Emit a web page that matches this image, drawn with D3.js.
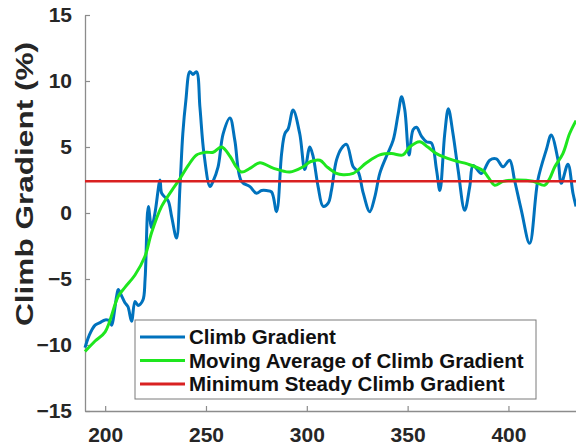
<!DOCTYPE html>
<html>
<head>
<meta charset="utf-8">
<script src="https://cdn.jsdelivr.net/npm/d3@7"></script>
<style>
  html, body { margin: 0; padding: 0; background: #fff; }
  svg { display: block; font-family: "Liberation Sans", Arial, sans-serif; }
</style>
</head>
<body>
<div id="chart"></div>
<script>
// climb gradient samples (distance, %)
const gradX = [190, 192, 195, 197.5, 200, 202.4, 203.2, 205.7, 206.5, 208.2, 209.8, 211.3, 213.1, 214.8, 216.3, 218.7, 219.8,
  221.4, 223, 224.7, 227.2, 228, 229.6, 231.3, 233, 235.4, 237.1, 238.5, 240, 242, 243.5, 245.3, 247, 249, 252, 253.5,
  256, 258.5, 261.9, 264.3, 267.6, 271.8, 275, 277.6, 280, 282.5, 285, 287.5, 289.1, 290.8, 293.2, 296.5, 299, 301.5,
  303.1, 305.6, 308.1, 310.6, 312.2, 314.7, 317.2, 319.7, 323, 325.5, 328, 331.2, 333.7, 336.2, 339.5, 342.8, 345.3,
  347, 348.6, 350.7, 352.7, 354.4, 356.9, 359.3, 361.8, 364.3, 366, 368.4, 370.2, 372.5, 375, 378.3, 380.8, 382.5,
  386.6, 390.7, 394, 397.3, 400.6, 403, 406.4, 410.5, 414.6, 418.8, 421.2, 424.6, 426.2, 429.5, 432, 433.5];
const gradY = [-10.2, -9.3, -8.5, -8.3, -8.1, -8.2, -8.5, -6.3, -5.8, -6.3, -6.8, -7.1, -8.2, -6.7, -7.0, -6.6, -5.0,
  0.5, -1.1, 0, 2.5, 1.5, 1.2, 0.9, -0.3, -1.9, 2.0, 6.0, 8.5, 10.7, 10.5, 10.7, 8.0, 4.5, 2.0, 2.4,
  3.5, 6.0, 7.2, 5.5, 2.4, 2.0, 1.5, 1.7, 1.7, 1.6, 0.1, 4.5, 6.0, 6.4, 7.8, 6.0, 3.3, 5.0,
  4.3, 2.0, 0.5, 0.75, 1.7, 4.0, 4.9, 5.2, 3.5, 3.1, 1.5, 0.1, 1.2, 3.0, 4.3, 5.5, 7.5,
  8.8, 7.8, 4.4, 6.3, 6.5, 5.8, 5.4, 5.3, 3.3, 1.7, 6.0, 7.9, 6.0, 3.3, 0.2, 2.0, 3.6,
  3.0, 4.0, 4.1, 3.5, 4.0, 2.5, 0.2, -2.3, 2.5, 4.8, 5.9, 4.0, 2.25, 3.7, 1.5, 0.5];

// moving average
const avgX = [190, 195, 200, 206.5, 210, 214.8, 219.7, 223, 228, 233, 237.1, 241.2, 245.3, 250, 253.6, 257.7, 261.9,
  265, 267.6, 272, 276.7, 283.3, 291.6, 298.2, 302, 306.5, 310, 314.7, 318, 323, 329.6, 336.2, 342, 347.7, 351, 356,
  360, 364.3, 372.5, 380, 387.4, 390, 393.2, 397.3, 403.9, 412.2, 417.9, 420.4, 423, 427, 430.3, 433.5];
const avgY = [-10.5, -9.7, -9.0, -6.3, -5.6, -4.7, -3.3, -1.5, 0.5, 1.7, 2.6, 3.6, 4.4, 4.6, 4.6, 5.0, 4.3,
  3.5, 3.1, 3.4, 3.8, 3.4, 3.1, 3.5, 3.9, 4.0, 3.5, 3.0, 2.9, 3.0, 3.8, 4.4, 4.5, 4.4, 5.0, 5.4,
  5.0, 4.5, 4.0, 3.7, 3.2, 2.7, 2.1, 2.4, 2.5, 2.4, 2.1, 2.6, 3.5, 4.5, 6.0, 7.0];

const minSteady = 2.4;
const xDomain = [190, 433.5];
const xTicks = [200, 250, 300, 350, 400];
const yTicks = [-15, -10, -5, 0, 5, 10, 15];
const legendNames = ['Climb Gradient', 'Moving Average of Climb Gradient', 'Minimum Steady Climb Gradient'];
const colors = ['#0072BD', '#1EE61E', '#D92121'];

const width = 576, height = 446;
const margin = { left: 85, right: 0, top: 15, bottom: 35 };

const svg = d3.select('#chart').append('svg')
  .attr('width', width)
  .attr('height', height);

const x = d3.scaleLinear().domain(xDomain).range([margin.left, width - margin.right]);
const y = d3.scaleLinear().domain([-15, 15]).range([height - margin.bottom, margin.top]);

// axes (ticks inward, like matlab)
const xAxis = svg.append('g')
  .attr('transform', `translate(0,${y(-15)})`)
  .call(d3.axisBottom(x).tickValues(xTicks).tickSizeInner(-5).tickSizeOuter(0).tickPadding(16));
const yAxis = svg.append('g')
  .attr('transform', `translate(${x(xDomain[0])},0)`)
  .call(d3.axisLeft(y).tickValues(yTicks).tickSizeInner(-5).tickSizeOuter(0).tickPadding(13));

[xAxis, yAxis].forEach(ax => {
  ax.select('.domain').attr('stroke', '#8c8c8c').attr('stroke-width', 1.3);
  ax.selectAll('.tick line').attr('stroke', '#8c8c8c').attr('stroke-width', 1.2);
  ax.selectAll('.tick text')
    .attr('fill', '#262626')
    .style('font-size', '21px')
    .style('font-weight', 'bold');
});

svg.append('text')
  .attr('transform', 'translate(33,184) rotate(-90)')
  .attr('text-anchor', 'middle')
  .attr('fill', '#262626')
  .attr('textLength', 284)
  .attr('lengthAdjust', 'spacingAndGlyphs')
  .style('font-size', '24px')
  .style('font-weight', 'bold')
  .text('Climb Gradient (%)');

const plot = svg.append('g');

const line = d3.line()
  .x(d => x(d[0]))
  .y(d => y(d[1]))
  .curve(d3.curveCatmullRom.alpha(0.5));

plot.append('path')
  .datum(d3.zip(gradX, gradY))
  .attr('fill', 'none')
  .attr('stroke', colors[0])
  .attr('stroke-width', 3)
  .attr('d', line);

plot.append('path')
  .datum(d3.zip(avgX, avgY))
  .attr('fill', 'none')
  .attr('stroke', colors[1])
  .attr('stroke-width', 3)
  .attr('d', line);

plot.append('line')
  .attr('x1', x(xDomain[0])).attr('x2', x(xDomain[1]))
  .attr('y1', y(minSteady)).attr('y2', y(minSteady))
  .attr('stroke', colors[2])
  .attr('stroke-width', 2.6);

// legend
const legend = svg.append('g').attr('transform', 'translate(135,320)');
legend.append('rect')
  .attr('width', 401).attr('height', 79)
  .attr('fill', '#fff')
  .attr('stroke', '#7a7a7a')
  .attr('stroke-width', 1);

legendNames.forEach((name, i) => {
  const yy = 17 + i * 23.5;
  legend.append('line')
    .attr('x1', 5).attr('x2', 50)
    .attr('y1', yy).attr('y2', yy)
    .attr('stroke', colors[i])
    .attr('stroke-width', 3);
  legend.append('text')
    .attr('x', 54).attr('y', yy)
    .attr('dy', '0.36em')
    .attr('fill', '#111')
    .style('font-size', '20.5px')
    .style('font-weight', 'bold')
    .text(name);
});
</script>
</body>
</html>
